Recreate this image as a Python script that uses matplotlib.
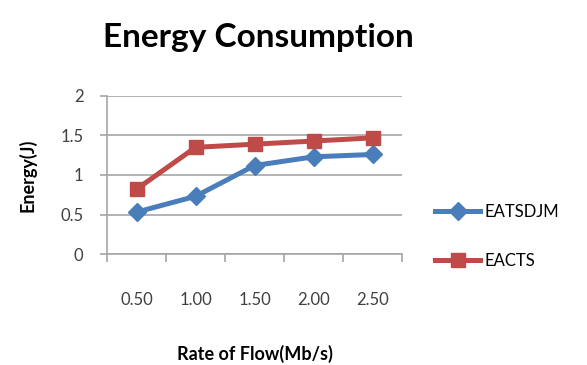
import matplotlib
matplotlib.use("Agg")
import matplotlib.pyplot as plt
import numpy as np

# Energy consumption vs. flow rate
rates = ["0.50", "1.00", "1.50", "2.00", "2.50"]
eatsdjm = [0.53, 0.73, 1.12, 1.23, 1.26]
eacts = [0.82, 1.35, 1.39, 1.43, 1.47]

plt.rcParams["font.family"] = ["Lato", "DejaVu Sans"]

fig = plt.figure(figsize=(5.87, 3.65), dpi=100)
ax = fig.add_axes([0.1823, 0.3041, 0.5026, 0.4329])

x = np.arange(len(rates))
ax.plot(x, eatsdjm, color="#4a7ebb", lw=3.6, marker="D", ms=9.5,
        label="EATSDJM")
ax.plot(x, eacts, color="#be4b48", lw=3.6, marker="s", ms=10.5,
        label="EACTS")

ax.set_xlim(-0.5, len(rates) - 0.5)
ax.set_ylim(0, 2)
ax.set_yticks([0, 0.5, 1, 1.5, 2])
ax.set_yticklabels(["0", "0.5", "1", "1.5", "2"])
ax.set_xticks(x)
ax.set_xticklabels(rates)
ax.set_xticks(np.arange(len(rates) + 1) - 0.5, minor=True)

ax.grid(axis="y", color="#a6a6a6", lw=1.2)
ax.set_axisbelow(True)
for side in ("top", "right"):
    ax.spines[side].set_visible(False)
for side in ("left", "bottom"):
    ax.spines[side].set_color("#a6a6a6")
    ax.spines[side].set_linewidth(1.2)

ax.tick_params(axis="x", which="major", length=0, pad=27,
               labelsize=12, labelcolor="#404040")
ax.tick_params(axis="x", which="minor", length=6, color="#a6a6a6",
               width=1.2)
ax.tick_params(axis="y", length=5, color="#a6a6a6", width=1.2, pad=12,
               labelsize=12, labelcolor="#404040")

ax.set_xlabel("Rate of Flow(Mb/s)", fontsize=13, fontweight="bold",
              labelpad=27)
ax.set_ylabel("Energy(J)", fontsize=13, fontweight="bold", labelpad=17)

fig.text(0.44, 0.898, "Energy Consumption", ha="center", va="center",
         fontsize=24, fontweight="bold")

ax.legend(loc="center left", bbox_to_anchor=(1.112, 0.11), frameon=False,
          fontsize=12, labelspacing=2.0, handlelength=2.7,
          handletextpad=0.25, borderpad=0, borderaxespad=0)

fig.savefig("out.png", dpi=100)
